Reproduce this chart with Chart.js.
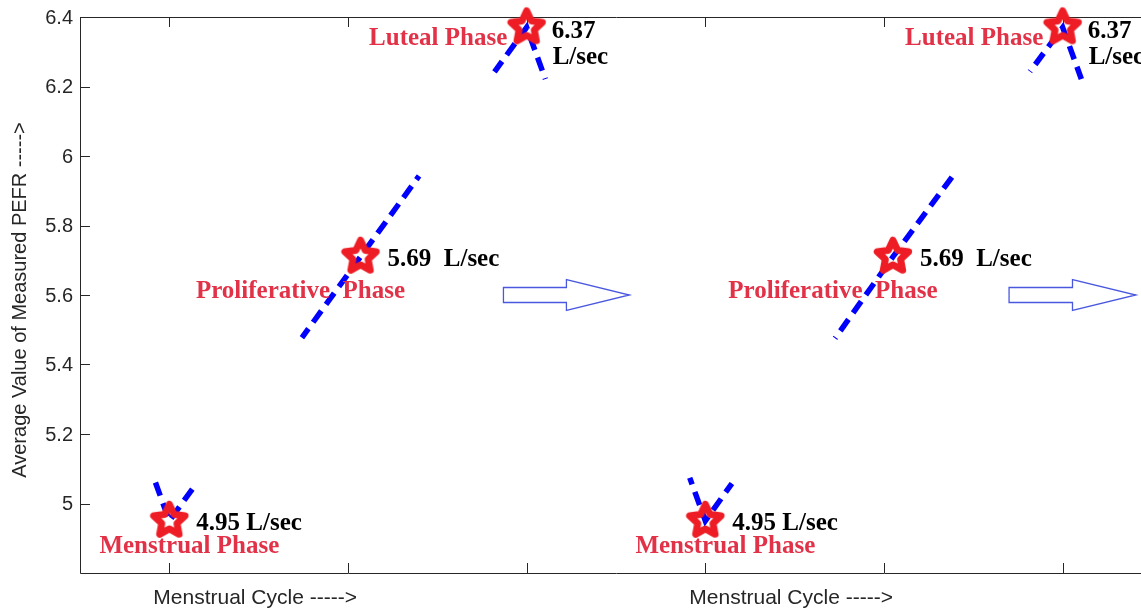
<!DOCTYPE html>
<html>
<head>
<meta charset="utf-8">
<script src="https://cdn.jsdelivr.net/npm/chart.js@4.4.0/dist/chart.umd.min.js"></script>
<style>
  html, body { margin: 0; padding: 0; background: #fff; overflow: hidden; }
  #wrap { width: 1141px; height: 609px; overflow: hidden; }
  #pefr { width: 1160px; height: 609px; }
</style>
</head>
<body>
<div id="wrap"><canvas id="pefr" width="1160" height="609"></canvas></div>
<script>
// two menstrual cycles, three phases each
const phaseNames = ["Menstrual Phase", "Proliferative  Phase", "Luteal Phase"];
const phaseX = [1, 2.07, 3, 4, 5.05, 6];
const pefrPlotted = [4.95, 5.71, 6.37, 4.95, 5.71, 6.37];
const pefrText = ["4.95 L/sec", "5.69  L/sec", "6.37\nL/sec"];

// dashed trend keeps going into the cycles before and after the plot
const lineX = [0, 1, 2.07, 3, 4, 5.05, 6, 7];
const lineY = [6.37, 4.95, 5.71, 6.37, 4.95, 5.71, 6.37, 4.95];

const yTicks = [5, 5.2, 5.4, 5.6, 5.8, 6, 6.2, 6.4];
const xTicks = [1, 2, 3, 4, 5, 6];
const xTitle = "Menstrual Cycle ----->";
const xTitleAt = [1.48, 4.48];
const yTitle = "Average Value of Measured PEFR ----->";

const arrowFrom = [2.87, 5.70];
const arrowTo = [3.575, 6.41];
const arrowY = 5.6;

// how far the dashed line shows around each star (px)
const dashReach = [44, 100, 55, 46, 100, 55];

const RED = "#ee1c24";
const TEXT_RED = "#e23248";
const AXIS = "#262626";

function pentagram() {
  const c = document.createElement("canvas");
  c.width = 48; c.height = 48;
  const g = c.getContext("2d");
  g.translate(24, 24);
  g.beginPath();
  for (let i = 0; i < 10; i++) {
    const r = i % 2 ? 8 : 16.5;
    const a = -Math.PI / 2 + i * Math.PI / 5;
    g.lineTo(r * Math.cos(a), r * Math.sin(a));
  }
  g.closePath();
  g.lineWidth = 7;
  g.lineJoin = "round";
  g.strokeStyle = RED;
  g.stroke();
  return c;
}

// label offsets per phase, px from the star
const phaseOffset = [
  { dx: 20, dy: 32.5 },
  { dx: -60, dy: 41 },
  { dx: -88.5, dy: 18 }
];

const decor = {
  id: "decor",
  beforeDatasetsDraw(chart) {
    const { ctx, chartArea: a, scales: { x, y } } = chart;
    ctx.save();
    ctx.strokeStyle = AXIS;
    ctx.lineWidth = 1;
    ctx.beginPath();
    ctx.rect(a.left + 0.5, a.top + 0.5, a.right - a.left, a.bottom - a.top);
    xTicks.forEach(v => {
      const px = Math.round(x.getPixelForValue(v)) + 0.5;
      ctx.moveTo(px, a.bottom); ctx.lineTo(px, a.bottom - 10);
      ctx.moveTo(px, a.top); ctx.lineTo(px, a.top + 10);
    });
    yTicks.forEach(v => {
      const py = Math.round(y.getPixelForValue(v)) + 0.5;
      ctx.moveTo(a.left, py); ctx.lineTo(a.left + 10, py);
      ctx.moveTo(a.right, py); ctx.lineTo(a.right - 10, py);
    });
    ctx.stroke();

    ctx.fillStyle = AXIS;
    ctx.font = '20px "Liberation Sans", Arial, sans-serif';
    ctx.textAlign = "right";
    ctx.textBaseline = "middle";
    yTicks.forEach(v => ctx.fillText(String(v), a.left - 7, y.getPixelForValue(v) + 1));

    ctx.font = '21px "Liberation Sans", Arial, sans-serif';
    ctx.textAlign = "center";
    ctx.textBaseline = "alphabetic";
    xTitleAt.forEach(v => ctx.fillText(xTitle, x.getPixelForValue(v), 604));

    ctx.font = '20px "Liberation Sans", Arial, sans-serif';
    ctx.translate(20, 300);
    ctx.rotate(-Math.PI / 2);
    ctx.textBaseline = "middle";
    ctx.fillText(yTitle, 0, 0);
    ctx.restore();
  },
  beforeDatasetDraw(chart, args) {
    if (args.index !== 1) return;
    const { ctx, scales: { x, y } } = chart;
    ctx.save();
    ctx.beginPath();
    phaseX.forEach((v, i) => {
      const px = x.getPixelForValue(v), py = y.getPixelForValue(pefrPlotted[i]);
      ctx.moveTo(px + dashReach[i], py);
      ctx.arc(px, py, dashReach[i], 0, Math.PI * 2);
    });
    ctx.clip();
  },
  afterDatasetDraw(chart, args) {
    if (args.index === 1) chart.ctx.restore();
  },
  afterDatasetsDraw(chart) {
    const { ctx, scales: { x, y } } = chart;
    ctx.save();
    ctx.textBaseline = "alphabetic";
    phaseX.forEach((v, i) => {
      const k = i % 3;
      const px = x.getPixelForValue(v), py = y.getPixelForValue(pefrPlotted[i]);
      ctx.font = 'bold 25px "Liberation Serif", "Times New Roman", serif';
      ctx.fillStyle = TEXT_RED;
      ctx.textAlign = "center";
      ctx.fillText(phaseNames[k], px + phaseOffset[k].dx, py + phaseOffset[k].dy);
      ctx.fillStyle = "#000";
      ctx.textAlign = "left";
      const lines = pefrText[k].split("\n");
      if (lines.length > 1) {
        ctx.fillText(lines[0], px + 25, py + 11);
        ctx.fillText(lines[1], px + 26, py + 37);
      } else {
        ctx.fillText(lines[0], px + 27, py + 9);
      }
    });

    // hollow block arrows between the cycles
    ctx.strokeStyle = "#4a58e0";
    ctx.lineWidth = 1.3;
    arrowFrom.forEach((v, i) => {
      const x0 = x.getPixelForValue(v), x1 = x.getPixelForValue(arrowTo[i]);
      const xb = x0 + (x1 - x0) * 0.5;
      const yc = y.getPixelForValue(arrowY);
      ctx.beginPath();
      ctx.moveTo(x0, yc - 7.5);
      ctx.lineTo(xb, yc - 7.5);
      ctx.lineTo(xb, yc - 15.5);
      ctx.lineTo(x1, yc);
      ctx.lineTo(xb, yc + 15.5);
      ctx.lineTo(xb, yc + 7.5);
      ctx.lineTo(x0, yc + 7.5);
      ctx.closePath();
      ctx.stroke();
    });
    ctx.restore();
  }
};

new Chart(document.getElementById("pefr"), {
  type: "scatter",
  data: {
    datasets: [
      {
        label: "PEFR",
        data: phaseX.map((v, i) => ({ x: v, y: pefrPlotted[i] })),
        pointStyle: pentagram(),
        pointRadius: 18,
        pointHoverRadius: 18,
        showLine: false,
        clip: false
      },
      {
        label: "trend",
        data: lineX.map((v, i) => ({ x: v, y: lineY[i] })),
        showLine: true,
        borderColor: "#0000ff",
        borderWidth: 5.5,
        borderDash: [14, 8],
        pointRadius: 0,
        fill: false,
        tension: 0
      }
    ]
  },
  options: {
    responsive: false,
    animation: false,
    events: [],
    // canvas is wider than the window: the right edge of the axes box is cropped off
    layout: { autoPadding: false, padding: { left: 80, top: 17, right: 8, bottom: 36 } },
    plugins: { legend: { display: false }, tooltip: { enabled: false } },
    scales: {
      x: { type: "linear", min: 0.5, max: 6.5, display: false },
      y: { min: 4.8, max: 6.4, display: false }
    }
  },
  plugins: [decor]
});
</script>
</body>
</html>
